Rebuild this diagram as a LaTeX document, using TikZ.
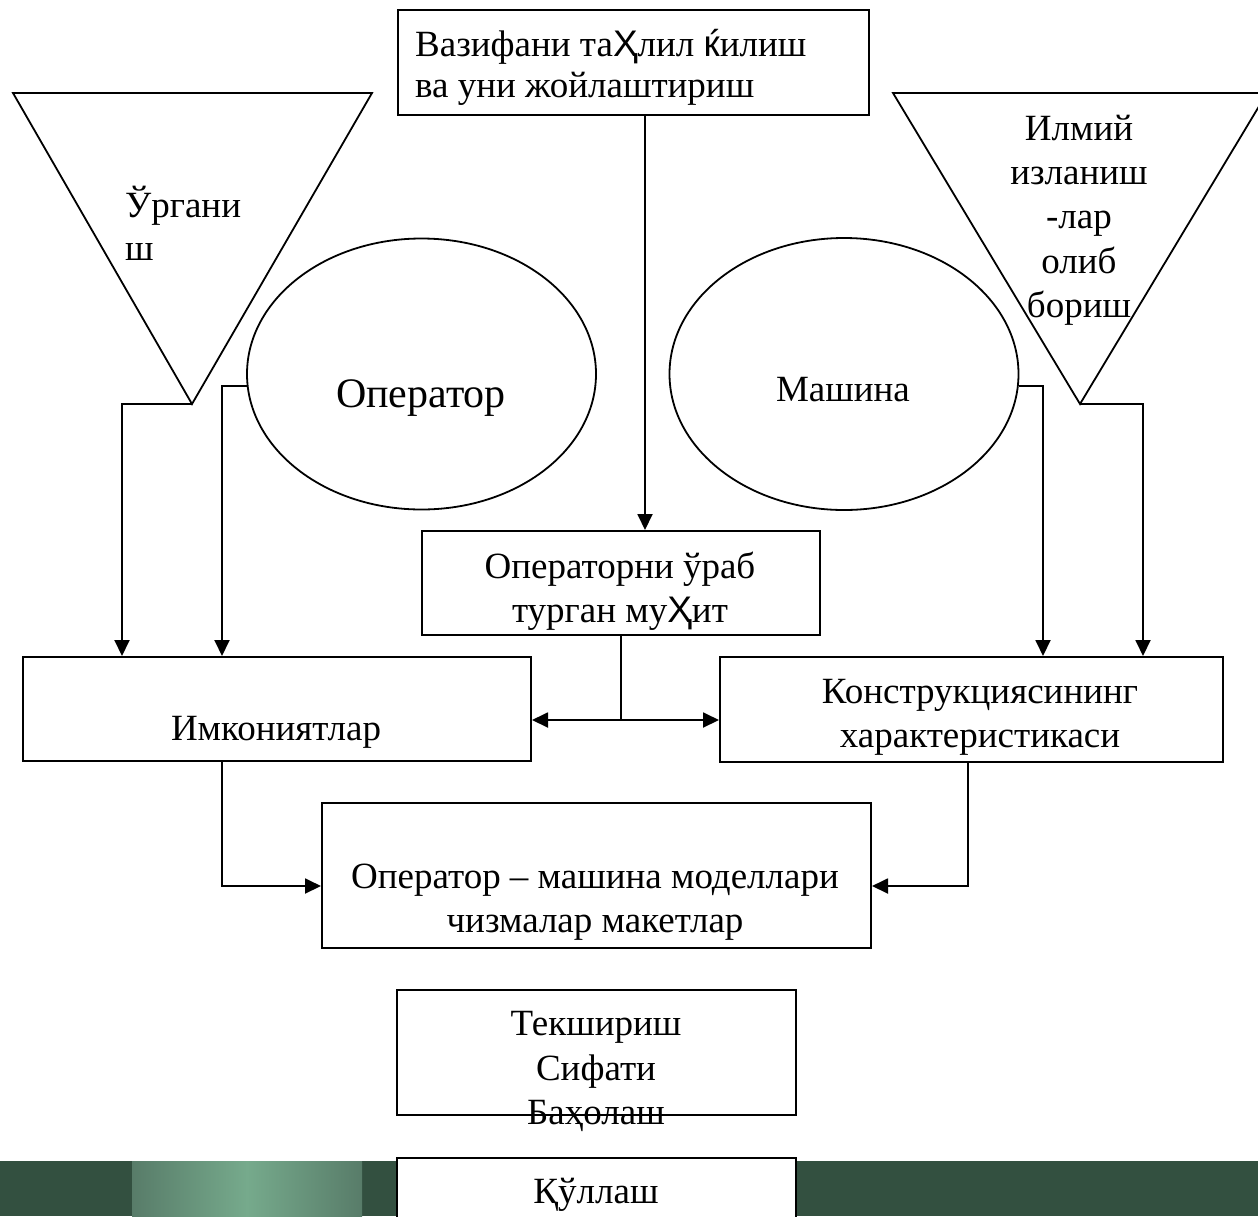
\documentclass[tikz,border=0pt]{standalone}
\usepackage{fontspec}
\setmainfont{Liberation Serif}
\newfontfamily\sansf{Liberation Sans}
\usetikzlibrary{arrows.meta,shapes.geometric}
\definecolor{bandgreen}{HTML}{335040}
\definecolor{stripedge}{HTML}{587C69}
\definecolor{stripmid}{HTML}{76AA8C}
\begin{document}
\begin{tikzpicture}[x=1pt,y=-1pt,
  box/.style={draw, line width=2pt, fill=white, inner sep=0pt, anchor=north west},
  ell/.style={draw, ellipse, line width=1.8pt, inner sep=0pt},
  tri/.style={draw, line width=1.8pt, line join=miter},
  conn/.style={draw, line width=1.9pt},
  arr/.style={conn, -{Triangle[length=16pt,width=15pt]}},
  txt/.style={inner sep=0pt, font=\fontsize{37}{44}\selectfont, anchor=base},
  txtl/.style={txt, anchor=base west},
  bigtxt/.style={txt, font=\fontsize{42}{48}\selectfont}]
\useasboundingbox (0,0) rectangle (1258,1216);
% bottom band
\fill[bandgreen] (0,1161) rectangle (1258,1216);
\shade[left color=stripedge, right color=stripedge, middle color=stripmid] (132,1161) rectangle (362,1216);

% boxes
\node[box, minimum width=471, minimum height=105] (top) at (397,9) {};
\node[box, minimum width=398, minimum height=104] (mid) at (421,530) {};
\node[box, minimum width=508, minimum height=104] (imk) at (22,656) {};
\node[box, minimum width=503, minimum height=105] (kon) at (719,656) {};
\node[box, minimum width=549, minimum height=145] (model) at (321,802) {};
\node[box, minimum width=399, minimum height=125] (tek) at (396,989) {};
\node[box, minimum width=399, minimum height=90] (qul) at (396,1157) {};

% ellipses
\node[ell, minimum width=349, minimum height=271] (opE) at (421.5,374) {};
\node[ell, minimum width=349, minimum height=272] (mashE) at (844,374) {};

% triangles
\draw[tri] (13,93) -- (372,93) -- (192,404) -- cycle;
\coordinate (apexL) at (192,404);
\draw[tri] (893,93) -- (1267,93) -- (1080,404) -- cycle;
\coordinate (apexR) at (1080,404);

% connectors
\draw[arr] (apexL) -| ([xshift=100pt]imk.north west);
\draw[arr] (opE.184) -| ([xshift=200pt]imk.north west);
\draw[arr] (mashE.-4) -| ([xshift=324pt]kon.north west);
\draw[arr] (apexR) -| ([xshift=424pt]kon.north west);
\draw[arr] ([xshift=248pt]top.south west) -- ([xshift=248pt]top.south west |- mid.north);
\draw[conn] (mid.south) -- ++(0,84) coordinate (jn);
\draw[arr] (jn) -- (jn -| imk.east);
\draw[arr] (jn) -- (jn -| kon.west);
\draw[arr] ([xshift=200pt]imk.south west) |- ([yshift=-10.5pt]model.west);
\draw[arr] ([xshift=249pt]kon.south west) |- ([yshift=-10.5pt]model.east);

% texts
\node[txtl] (top1) at (415,56) {Вазифани та{\sansf Ҳ}лил {\sansf ќ}илиш};
\node[txtl] (top2) at (415,97) {ва уни жойлаштириш};
\node[txtl] (ur1) at (125,217) {Ўргани};
\node[txtl] (ur2) at (125,260) {ш};
\node[txt] (il1) at (1079,140) {Илмий};
\node[txt] (il2) at (1079,184) {изланиш};
\node[txt] (il3) at (1079,228) {-лар};
\node[txt] (il4) at (1079,273) {олиб};
\node[txt] (il5) at (1079,317) {бориш};
\node[bigtxt] (opT) at (421,407) {Оператор};
\node[txt] (mashT) at (843,401) {Машина};
\node[txt] (mid1) at (620,578) {Операторни ўраб};
\node[txt] (mid2) at (620,622) {турган му{\sansf Ҳ}ит};
\node[txt] (imkT) at (276,740) {Имкониятлар};
\node[txt] (kon1) at (980,703) {Конструкциясининг};
\node[txt] (kon2) at (980,747) {характеристикаси};
\node[txt] (mod1) at (595,888) {Оператор – машина моделлари};
\node[txt] (mod2) at (595,932) {чизмалар макетлар};
\node[txt] (tek1) at (596,1035) {Текшириш};
\node[txt] (tek2) at (596,1080) {Сифати};
\node[txt] (tek3) at (596,1124) {Баҳолаш};
\node[txt] (qulT) at (596,1203) {Қўллаш};
\end{tikzpicture}
\end{document}
